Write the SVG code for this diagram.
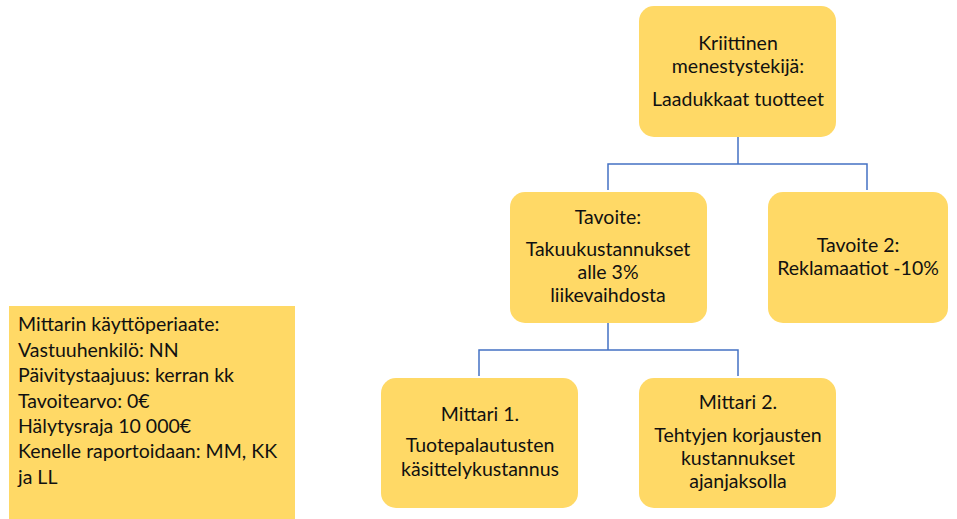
<svg xmlns="http://www.w3.org/2000/svg" width="957" height="519" viewBox="0 0 957 519">
  <style>
    .box { fill: #FFD966; }
    .t { font-family: Lato, "Open Sans", sans-serif; font-size: 19.5px; fill: #111; }
    .c { text-anchor: middle; }
    .link { fill: none; stroke: #4472C4; stroke-width: 1.5; }
  </style>
  <rect width="957" height="519" fill="#ffffff"/>

  <g id="connectors">
    <path class="link" d="M738 137 V164 M608 190 V164 H867 V190"/>
    <path class="link" d="M608 323 V350 M479 376 V350 H738 V376"/>
  </g>

  <g id="critical-factor">
    <rect class="box" x="639" y="6" width="197" height="131" rx="15"/>
    <text class="t c" x="738" y="50">Kriittinen</text>
    <text class="t c" x="738" y="73">menestystekijä:</text>
    <text class="t c" x="738" y="106">Laadukkaat tuotteet</text>
  </g>

  <g id="goal-1">
    <rect class="box" x="510" y="192" width="197" height="131" rx="15"/>
    <text class="t c" x="608" y="224">Tavoite:</text>
    <text class="t c" x="608" y="256">Takuukustannukset</text>
    <text class="t c" x="608" y="279">alle 3%</text>
    <text class="t c" x="608" y="302">liikevaihdosta</text>
  </g>

  <g id="goal-2">
    <rect class="box" x="768" y="192" width="180" height="131" rx="15"/>
    <text class="t c" x="858" y="252">Tavoite 2:</text>
    <text class="t c" x="858" y="275">Reklamaatiot -10%</text>
  </g>

  <g id="metric-1">
    <rect class="box" x="381" y="378" width="197" height="130" rx="15"/>
    <text class="t c" x="480" y="421">Mittari 1.</text>
    <text class="t c" x="480" y="452">Tuotepalautusten</text>
    <text class="t c" x="480" y="476">käsittelykustannus</text>
  </g>

  <g id="metric-2">
    <rect class="box" x="639" y="378" width="197" height="130" rx="15"/>
    <text class="t c" x="738" y="409">Mittari 2.</text>
    <text class="t c" x="738" y="442">Tehtyjen korjausten</text>
    <text class="t c" x="738" y="465">kustannukset</text>
    <text class="t c" x="738" y="488">ajanjaksolla</text>
  </g>

  <g id="usage-principles">
    <rect class="box" x="9" y="306" width="286" height="213"/>
    <text class="t" x="18" y="331">Mittarin käyttöperiaate:</text>
    <text class="t" x="18" y="357">Vastuuhenkilö: NN</text>
    <text class="t" x="18" y="382">Päivitystaajuus: kerran kk</text>
    <text class="t" x="18" y="408">Tavoitearvo: 0€</text>
    <text class="t" x="18" y="433">Hälytysraja 10 000€</text>
    <text class="t" x="18" y="458">Kenelle raportoidaan: MM, KK</text>
    <text class="t" x="18" y="484">ja LL</text>
  </g>
</svg>
